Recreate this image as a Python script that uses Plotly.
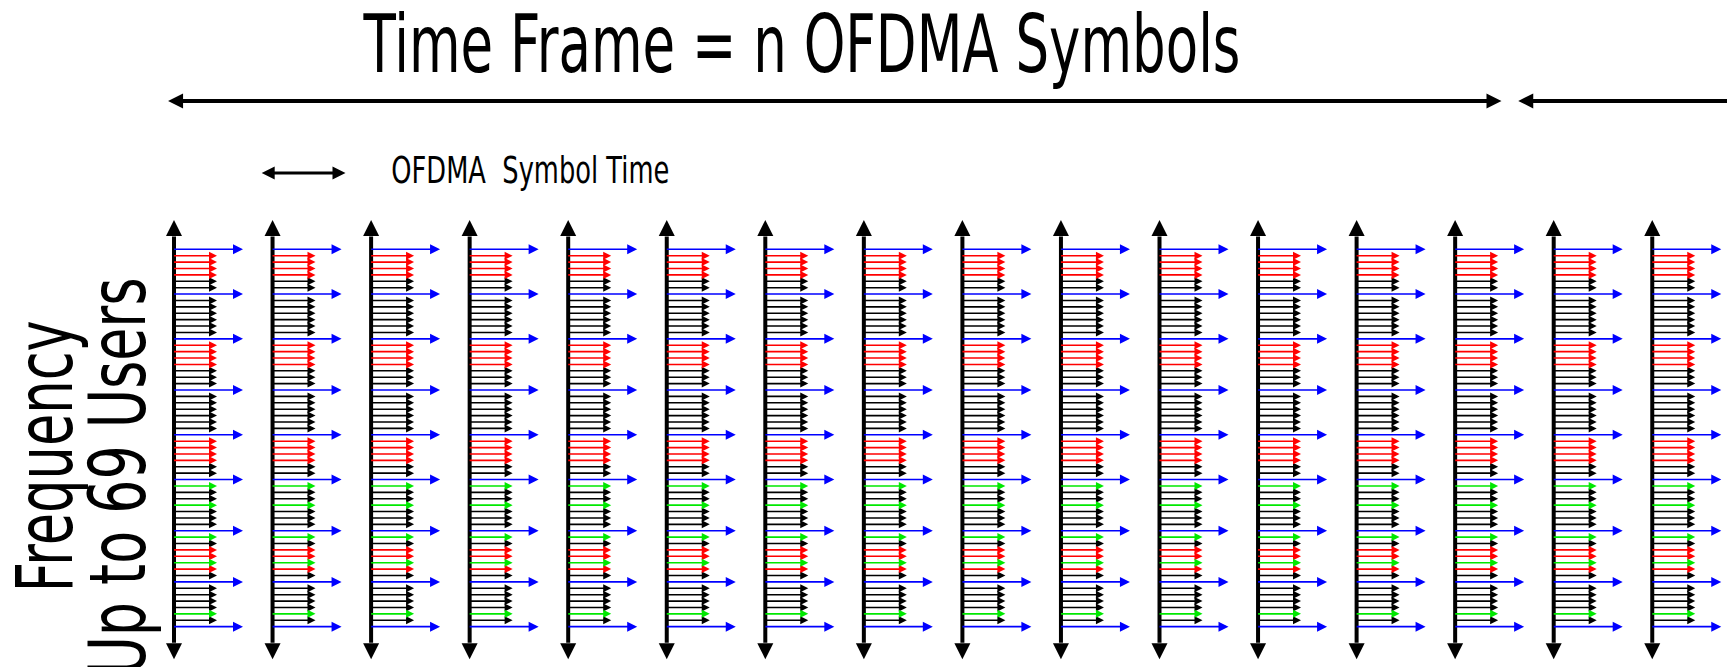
import json
import plotly.graph_objects as go

# ---------------- data ----------------
N_SYMBOLS = 16                      # OFDMA symbols drawn
# subcarrier allocation, top to bottom: P = pilot, R = user A, G = user B, K = other users
SUBCARRIERS = list("PRRRRKK" "PKKKKKK" "PRRRRKKK" "PKKKKKK" "PRRRRKK"
                   "PGKKGKKK" "PGKRRGRK" "PKKKKGK" "P")
FRAME_SYMBOLS = (-0.06, 13.47)      # extent of the time-frame arrow (symbol units)
NEXT_FRAME_START = 13.64
SYMBOL_TIME_MARK = (0.89, 1.74)     # one symbol-time marker
TITLE = "Time Frame = n OFDMA Symbols"
SYMBOL_LABEL = "OFDMA\u00a0 Symbol Time"
YLABEL1 = "Frequency"
YLABEL2 = "Up to 69 Users"

# ---------------- styles ----------------
W, H = 1727, 667
X0, DX = 174.0, 98.55       # px of symbol 0, px per symbol
Y0, DY = 249.3, 6.396       # px of subcarrier 0, px per subcarrier
COLORS = {"P": "#0000ff", "R": "#ff0000", "G": "#00e800", "K": "#000000"}
LENGTH = {"P": 0.70, "R": 0.436, "G": 0.436, "K": 0.436}
HEAD = {"P": 10, "R": 8, "G": 8, "K": 8}
FONT = "DejaVu Sans, Verdana, sans-serif"

fig = go.Figure()

# vertical frequency axes
vx, vy = [], []
for k in range(N_SYMBOLS):
    vx += [k, k, None]
    vy += [-2.0, 61.5, None]
fig.add_trace(go.Scatter(x=vx, y=vy, mode="lines", line=dict(color="black", width=4), hoverinfo="skip"))
fig.add_trace(go.Scatter(x=list(range(N_SYMBOLS)), y=[-4.58] * N_SYMBOLS, mode="markers",
                         marker=dict(symbol="arrow-up", size=16, color="black"), hoverinfo="skip"))
fig.add_trace(go.Scatter(x=list(range(N_SYMBOLS)), y=[64.08] * N_SYMBOLS, mode="markers",
                         marker=dict(symbol="arrow-down", size=16, color="black"), hoverinfo="skip"))

# subcarrier arrows
for kind in ["K", "R", "G", "P"]:
    lx, ly, hx, hy = [], [], [], []
    for r, t in enumerate(SUBCARRIERS):
        if t != kind:
            continue
        for k in range(N_SYMBOLS):
            lx += [k, k + LENGTH[kind] - 0.03, None]
            ly += [r, r, None]
            hx.append(k + LENGTH[kind])
            hy.append(r)
    fig.add_trace(go.Scatter(x=lx, y=ly, mode="lines",
                             line=dict(color=COLORS[kind], width=1.6), hoverinfo="skip"))
    fig.add_trace(go.Scatter(x=hx, y=hy, mode="markers",
                             marker=dict(symbol="arrow-right", size=HEAD[kind], color=COLORS[kind]),
                             hoverinfo="skip"))

# time frame arrows
FRAME_Y = -23.2
fig.add_trace(go.Scatter(x=[FRAME_SYMBOLS[0] + 0.1, FRAME_SYMBOLS[1] - 0.1], y=[FRAME_Y, FRAME_Y],
                         mode="lines", line=dict(color="black", width=4), hoverinfo="skip"))
fig.add_trace(go.Scatter(x=[NEXT_FRAME_START + 0.1, 17], y=[FRAME_Y, FRAME_Y],
                         mode="lines", line=dict(color="black", width=4), hoverinfo="skip"))
fig.add_trace(go.Scatter(x=[FRAME_SYMBOLS[0], NEXT_FRAME_START], y=[FRAME_Y, FRAME_Y], mode="markers",
                         marker=dict(symbol="arrow-left", size=15, color="black"), hoverinfo="skip"))
fig.add_trace(go.Scatter(x=[FRAME_SYMBOLS[1]], y=[FRAME_Y], mode="markers",
                         marker=dict(symbol="arrow-right", size=15, color="black"), hoverinfo="skip"))

# symbol time arrow
ST_Y = -11.93
fig.add_trace(go.Scatter(x=[SYMBOL_TIME_MARK[0] + 0.08, SYMBOL_TIME_MARK[1] - 0.08], y=[ST_Y, ST_Y],
                         mode="lines", line=dict(color="black", width=3), hoverinfo="skip"))
fig.add_trace(go.Scatter(x=[SYMBOL_TIME_MARK[0]], y=[ST_Y], mode="markers",
                         marker=dict(symbol="arrow-left", size=13, color="black"), hoverinfo="skip"))
fig.add_trace(go.Scatter(x=[SYMBOL_TIME_MARK[1]], y=[ST_Y], mode="markers",
                         marker=dict(symbol="arrow-right", size=13, color="black"), hoverinfo="skip"))


def px(xp):
    return xp / W


def py(yp):
    return 1 - yp / H


# text: (text, center x px, center y px, size, angle, rendered length px)
TEXTS = [
    (TITLE, 801, 44.5, 80, 0, 877),
    (SYMBOL_LABEL, 530, 170, 38, 0, 278),
    (YLABEL1, 44.7, 456, 78, -90, 272),
    (YLABEL2, 118, 477, 78, -90, 398),
]
annots = []
for txt, cx, cy, size, ang, _ in TEXTS:
    annots.append(dict(text=txt, x=px(cx), y=py(cy), xanchor="center", yanchor="middle",
                       textangle=ang, xref="paper", yref="paper", showarrow=False,
                       font=dict(size=size, family=FONT, color="black")))

fig.update_layout(
    width=W, height=H, margin=dict(l=0, r=0, t=0, b=0),
    paper_bgcolor="white", plot_bgcolor="white", showlegend=False,
    xaxis=dict(visible=False, range=[-X0 / DX, (W - X0) / DX], fixedrange=True),
    yaxis=dict(visible=False, range=[(H - Y0) / DY, -Y0 / DY], fixedrange=True),
    annotations=annots,
)

lengths = json.dumps([t[5] for t in TEXTS])
post = """
document.body.style.margin='0';document.body.style.overflow='hidden';
var gd = document.getElementById('{plot_id}');
var L = %s;
gd.querySelectorAll('g.annotation').forEach(function(g){
  var i = parseInt(g.getAttribute('data-index'));
  var t = g.querySelector('text.annotation-text');
  if (t && L[i]) { t.setAttribute('textLength', L[i]); t.setAttribute('lengthAdjust', 'spacingAndGlyphs'); }
});
""" % lengths

fig.write_html("out.html", config={"displayModeBar": False, "staticPlot": True}, post_script=post)
